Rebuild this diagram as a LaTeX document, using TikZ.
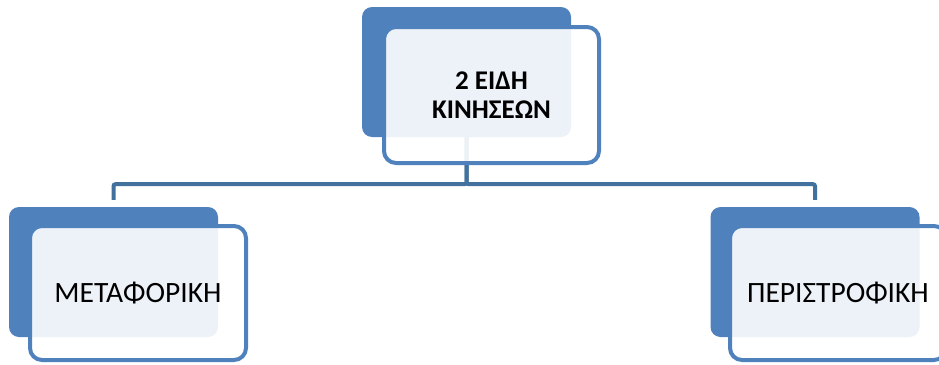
\documentclass[tikz,border=0pt]{standalone}
\usepackage{fontspec}
\setmainfont{Carlito}
\definecolor{backblue}{HTML}{4F81BD}
\definecolor{linkblue}{HTML}{41719C}
\begin{document}
\begin{tikzpicture}[x=1pt,y=-1pt,
  backbox/.style={draw=none,fill=backblue,rounded corners=10pt,inner sep=0pt,
    minimum width=209pt,minimum height=130pt},
  frontbox/.style={draw=backblue,line width=4pt,fill=white,fill opacity=0.9,text opacity=1,
    rounded corners=12pt,inner sep=0pt,minimum width=216pt,minimum height=135pt,
    font=\fontsize{29.5}{30}\selectfont,align=center},
  link/.style={draw=linkblue,line width=4pt,rounded corners=2pt}]
\useasboundingbox (0,0) rectangle (939,364);
\clip (0,0) rectangle (939,364);
% back boxes
\node[backbox] (topback) at (466.5,72) {};
\node[backbox] (leftback) at (113.5,272) {};
\node[backbox] (rightback) at (815,272) {};
% connectors
\coordinate (lend) at ([yshift=7pt]leftback.north);
\coordinate (rend) at ([yshift=7pt]rightback.north);
\draw[link] (topback.south) -- ++(0,47) -| (lend);
\draw[link] (topback.south) -- ++(0,47) -| (rend);
% front boxes
\node[frontbox,minimum width=215pt,minimum height=136pt,font=\fontsize{27}{29}\selectfont\bfseries] (top) at (491.5,95) {2 ΕΙΔΗ\\ΚΙΝΗΣΕΩΝ};
\node[frontbox,minimum height=134pt] (left) at (138,293) {ΜΕΤΑΦΟΡΙΚΗ};
\node[frontbox,minimum height=134pt] (right) at (838,293) {ΠΕΡΙΣΤΡΟΦΙΚΗ};
\end{tikzpicture}
\end{document}
